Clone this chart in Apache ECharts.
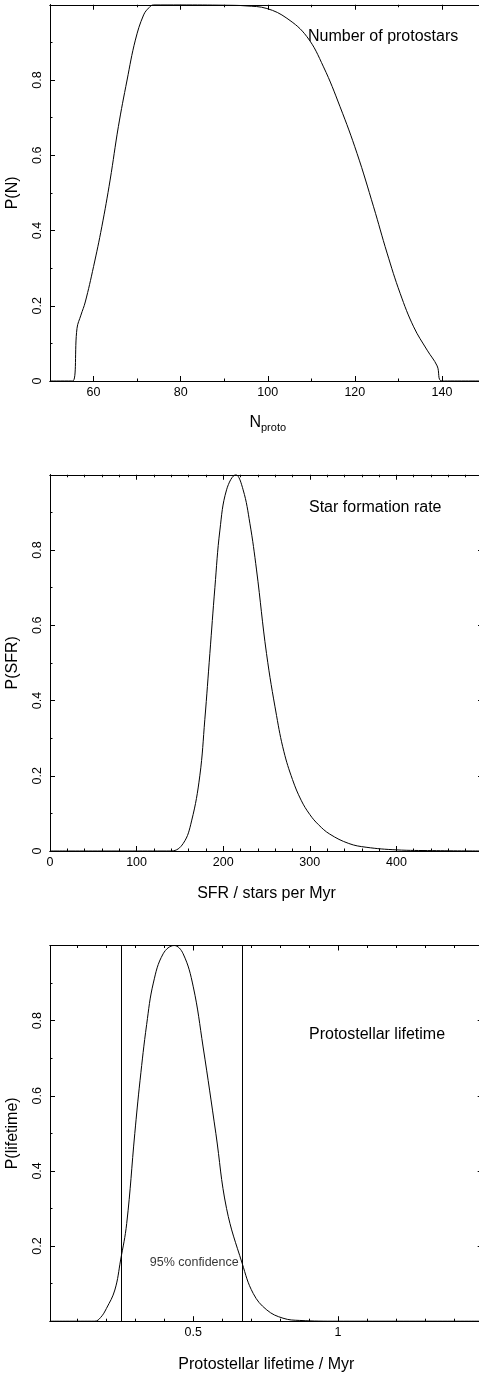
<!DOCTYPE html>
<html>
<head>
<meta charset="utf-8">
<script src="https://cdn.jsdelivr.net/npm/echarts@6/dist/echarts.min.js"></script>
<style>
html,body{margin:0;padding:0;background:#fff;}
#c{width:479px;height:1374px;}
</style>
</head>
<body>
<div id="c"></div>
<script>
// ---- Panel 1: number of protostars ----
const nprotoX = [50, 55.2, 56.2, 57.1, 58.1, 60, 61.9, 63.8, 65.7, 67.7, 69.6, 71.5, 72.8, 73.8, 80, 90, 95, 99.8, 104.4, 109, 112.8, 116.6, 120.5, 124.3, 127.4, 130.4, 133.5, 136.6, 138.9, 140, 150];
const nprotoP = [0, 0, 0.14, 0.175, 0.21, 0.304, 0.41, 0.534, 0.676, 0.80, 0.906, 0.973, 0.993, 1.0, 1.0, 0.999, 0.997, 0.99, 0.964, 0.915, 0.835, 0.729, 0.605, 0.463, 0.34, 0.233, 0.144, 0.082, 0.04, 0, 0];
const p1XMajor = [60, 80, 100, 120, 140];
const p1XMinor = [70, 90, 110, 130];
const p1XLabels = [60, 80, 100, 120, 140];

// ---- Panel 2: star formation rate ----
const sfrX = [0, 140, 153.8, 163.5, 173, 178.8, 184.6, 190.4, 196.2, 203.9, 214.6, 223, 230.8, 238.5, 250, 261.6, 270, 280, 290, 300, 310, 323, 345, 365, 400, 442, 500];
const sfrP = [0, 0, 0.02, 0.08, 0.2, 0.35, 0.525, 0.70, 0.853, 0.96, 1.0, 0.96, 0.871, 0.747, 0.525, 0.36, 0.265, 0.19, 0.135, 0.097, 0.07, 0.045, 0.02, 0.01, 0.003, 0.001, 0];
const p2XMajor = [100, 200, 300, 400, 500];
const p2XMinor = [20, 40, 60, 80, 120, 140, 160, 180, 220, 240, 260, 280, 320, 340, 360, 380, 420, 440, 460, 480];
const p2XLabels = [0, 100, 200, 300, 400];

// ---- Panel 3: protostellar lifetime ----
const lifeX = [0.005, 0.16, 0.18, 0.2, 0.229, 0.249, 0.27, 0.298, 0.316, 0.339, 0.362, 0.396, 0.434, 0.465, 0.5, 0.534, 0.578, 0.615, 0.669, 0.707, 0.754, 0.81, 0.868, 1.0, 1.5];
const lifeP = [0, 0, 0.01, 0.034, 0.083, 0.163, 0.26, 0.50, 0.64, 0.79, 0.90, 0.978, 1.0, 0.978, 0.89, 0.73, 0.5, 0.30, 0.154, 0.074, 0.03, 0.008, 0.002, 0, 0];
const p3XMajor = [0.5, 1];
const p3XMinor = [0.1, 0.2, 0.3, 0.4, 0.6, 0.7, 0.8, 0.9, 1.1, 1.2, 1.3, 1.4];
const p3XLabels = [0.5, 1];
const confidenceBounds = [0.249, 0.669];
const confidenceLabel = '95% confidence';
const confidenceLabelAt = [0.657, 0.157];

// ---- shared y ticks ----
const yMajor = [0, 0.2, 0.4, 0.6, 0.8, 1];
const yMinor = [0.1, 0.3, 0.5, 0.7, 0.9];
const yLabels12 = [0, 0.2, 0.4, 0.6, 0.8];
const yLabels3 = [0.2, 0.4, 0.6, 0.8];

const panelTitles = ['Number of protostars', 'Star formation rate', 'Protostellar lifetime'];
const yNames = ['P(N)', 'P(SFR)', 'P(lifetime)'];

const FONT = 'Liberation Sans';
const BLACK = '#000';

const xAxes = [], yAxes = [];
function fmt(v) { return String(+(+v).toFixed(3)); }
function addAxes(list, grid, dim, min, max, majors, minors, labels, name, nameGap, nameRich) {
  const pos = dim === 'x' ? ['bottom', 'top'] : ['left', 'right'];
  const first = list.length;
  const specs = [[pos[0], majors, 5, true], [pos[0], minors, 2.5, false], [pos[1], majors, 5, false], [pos[1], minors, 2.5, false]];
  specs.forEach(([p, ticks, len, lab], k) => {
    const ax = {
      type: 'value', gridIndex: grid, position: p, min: min, max: max,
      axisLine: { show: true, onZero: false, lineStyle: { color: BLACK, width: 1 } },
      axisTick: { show: true, inside: true, length: len, customValues: ticks, lineStyle: { color: BLACK, width: 1 } },
      axisLabel: lab ? {
        show: true, customValues: labels, formatter: fmt, color: BLACK,
        fontFamily: FONT, fontSize: 12.5,
        margin: dim === 'x' ? 5 : 6, rotate: dim === 'y' ? 90 : 0
      } : { show: false },
      splitLine: { show: false },
      minorTick: { show: false },
      z: 5
    };
    if (k === 0) {
      ax.name = name;
      ax.nameLocation = 'middle';
      ax.nameGap = nameGap;
      ax.nameTextStyle = { color: BLACK, fontFamily: FONT, fontSize: 16 };
      if (nameRich) ax.nameTextStyle.rich = nameRich;
      if (dim === 'y') ax.nameRotate = 90;
    }
    list.push(ax);
  });
  return first;
}

const grids = [
  { left: 50, top: 4.75, width: 435.5, height: 376.25, containLabel: false, outerBoundsMode: 'none' },
  { left: 50, top: 474.75, width: 433, height: 376.25, containLabel: false, outerBoundsMode: 'none' },
  { left: 50, top: 945.5, width: 432.7, height: 375.7, containLabel: false, outerBoundsMode: 'none' }
];

const subRich = {
  n: { fontSize: 16, fontFamily: FONT, color: BLACK },
  s: { fontSize: 11, fontFamily: FONT, color: BLACK, padding: [9, 0, 0, 0] }
};

const x1 = addAxes(xAxes, 0, 'x', 50, 150, p1XMajor, p1XMinor, p1XLabels, '{n|N}{s|proto}', 32, subRich);
const y1 = addAxes(yAxes, 0, 'y', 0, 1, yMajor, yMinor, yLabels12, yNames[0], 29);
const x2 = addAxes(xAxes, 1, 'x', 0, 500, p2XMajor, p2XMinor, p2XLabels, 'SFR / stars per Myr', 35);
const y2 = addAxes(yAxes, 1, 'y', 0, 1, yMajor, yMinor, yLabels12, yNames[1], 29);
const x3 = addAxes(xAxes, 2, 'x', 0.005, 1.5, p3XMajor, p3XMinor, p3XLabels, 'Protostellar lifetime / Myr', 35);
const y3 = addAxes(yAxes, 2, 'y', 0, 1, yMajor, yMinor, yLabels3, yNames[2], 29);

function pairs(xs, ys) { return xs.map((x, i) => [x, ys[i]]); }
const lineBase = { type: 'line', symbol: 'none', smooth: 0.4, lineStyle: { color: BLACK, width: 1 }, silent: true, animation: false, z: 3 };

const option = {
  backgroundColor: '#fff',
  animation: false,
  grid: grids,
  xAxis: xAxes,
  yAxis: yAxes,
  title: [
    { text: panelTitles[0], left: 308, top: 29, padding: 0, textStyle: { color: BLACK, fontFamily: FONT, fontSize: 16, fontWeight: 'normal' } },
    { text: panelTitles[1], left: 309, top: 500, padding: 0, textStyle: { color: BLACK, fontFamily: FONT, fontSize: 16, fontWeight: 'normal' } },
    { text: panelTitles[2], left: 309, top: 1027, padding: 0, textStyle: { color: BLACK, fontFamily: FONT, fontSize: 16, fontWeight: 'normal' } }
  ],
  series: [
    Object.assign({}, lineBase, { xAxisIndex: x1, yAxisIndex: y1, data: pairs(nprotoX, nprotoP) }),
    Object.assign({}, lineBase, { xAxisIndex: x2, yAxisIndex: y2, data: pairs(sfrX, sfrP) }),
    Object.assign({}, lineBase, {
      xAxisIndex: x3, yAxisIndex: y3, data: pairs(lifeX, lifeP),
      markLine: {
        silent: true, symbol: ['none', 'none'], animation: false,
        label: { show: false },
        lineStyle: { color: BLACK, width: 1, type: 'solid' },
        data: confidenceBounds.map(v => ({ xAxis: v }))
      }
    }),
    {
      type: 'scatter', xAxisIndex: x3, yAxisIndex: y3, symbolSize: 0, silent: true, animation: false,
      data: [confidenceLabelAt],
      label: { show: true, position: 'left', distance: 0, formatter: confidenceLabel, color: BLACK, fontFamily: FONT, fontSize: 12.5 }
    }
  ]
};

const chart = echarts.init(document.getElementById('c'), null, { renderer: 'canvas' });
chart.setOption(option);
</script>
</body>
</html>
